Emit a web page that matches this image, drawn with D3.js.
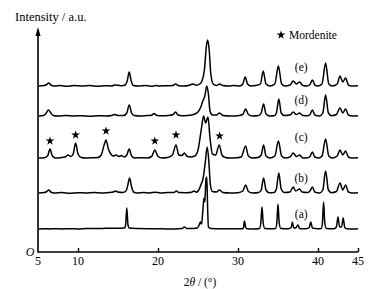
<!DOCTYPE html>
<html>
<head>
<meta charset="utf-8">
<script src="https://cdn.jsdelivr.net/npm/d3@7.9.0/dist/d3.min.js"></script>
<style>
  html, body { margin: 0; padding: 0; background: #fff; }
  svg { display: block; }
</style>
</head>
<body>
<svg id="chart" width="374" height="289"></svg>
<script>
// XRD patterns: [2theta, intensity above the trace baseline]
const traceA = [[5.1,0],[5.8,0.3],[6.4,0],[7.2,0.3],[8.0,0],[9.0,0.3],[10.0,0],[11.0,0.4],[12.0,0.5],[13.0,0.6],[14.0,0.7],[15.0,0.8],[15.8,0.9],[15.95,4],[16.1,21],[16.25,4],[16.4,0.9],[17.5,0.5],[19.0,0.3],[20.5,0.2],[22.0,0],[23.0,0.4],[23.3,2],[23.6,0.4],[24.4,0.5],[24.9,1],[25.15,4],[25.3,7],[25.45,5],[25.6,18],[25.75,31],[25.85,27],[26.0,50],[26.1,52],[26.2,22],[26.3,2],[26.6,0.5],[28.0,0.2],[29.5,0.3],[30.6,0.3],[30.7,2],[30.8,8],[30.95,2],[31.1,0.3],[32.0,0],[32.7,0.5],[32.85,6],[33.0,22],[33.15,6],[33.35,0.5],[34.2,0.3],[34.7,0.5],[34.85,6],[35.0,25],[35.15,6],[35.35,0.5],[36.3,0.3],[36.65,1.5],[36.8,7],[36.95,1.5],[37.2,1],[37.5,4],[37.7,0.5],[38.5,0.3],[38.9,1.5],[39.1,7],[39.3,1],[40.0,0.3],[40.4,0.5],[40.55,6],[40.7,27],[40.85,6],[41.05,0.5],[42.0,0.3],[42.3,2],[42.5,12],[42.7,2],[42.95,2],[43.15,11],[43.35,1.5],[43.6,0.3],[44.5,0],[45,0.2]];

const traceB = [[5.1,0],[5.8,0.5],[6.1,1.5],[6.35,3],[6.6,1],[7.0,0],[8.0,0.4],[9.0,-0.3],[10.0,0.3],[11.0,0],[12.0,0.4],[13.0,0],[13.8,0.5],[14.4,1],[14.7,2],[15.0,1],[15.6,0.5],[16.0,2],[16.2,7],[16.45,15],[16.7,6],[16.95,1],[17.4,0],[18.2,0.5],[19.0,0],[19.6,0.8],[20.3,0],[21.2,0.4],[22.0,0.5],[22.3,2],[22.6,0.4],[23.5,0.3],[24.2,0.8],[24.5,2],[24.8,0.8],[25.1,3],[25.4,9],[25.65,15],[25.9,30],[26.15,46],[26.35,32],[26.55,8],[26.8,1.5],[27.3,1],[27.7,3],[28.1,0.5],[29.0,0],[30.0,0.3],[30.6,2],[30.95,8],[31.3,1.5],[31.8,0],[32.6,0.5],[32.9,3],[33.2,15],[33.5,3],[33.9,0.3],[34.5,0.5],[34.8,4],[35.1,20],[35.4,4],[35.8,0.5],[36.5,1],[36.9,6],[37.2,2],[37.7,4],[38.0,1],[38.7,0.5],[39.0,2],[39.3,6],[39.6,1],[40.2,0],[40.6,3],[40.95,22],[41.3,3],[41.7,0.3],[42.3,1.5],[42.75,10],[43.1,3],[43.45,8],[43.8,1],[44.3,0],[45,0.3]];

const traceC = [[5.1,0],[5.8,0.3],[6.2,2],[6.5,9],[6.8,2],[7.2,0],[7.8,0.3],[8.4,1],[8.75,3],[9.1,1.5],[9.4,4],[9.7,15],[10.0,4],[10.4,0.5],[11.0,0],[11.8,0.3],[12.5,0.5],[12.9,3],[13.3,14],[13.5,18],[13.8,9],[14.1,4],[14.4,2],[14.8,3],[15.1,1.5],[15.4,2.5],[15.8,1],[16.1,3],[16.4,9],[16.7,2],[17.1,0],[17.8,0.3],[18.6,0],[19.2,1.5],[19.6,8],[20.0,1.5],[20.5,0],[21.2,0.5],[21.8,3],[22.25,13],[22.6,3],[23.0,2.5],[23.3,5],[23.6,2],[24.0,1],[24.6,2],[25.0,8],[25.4,28],[25.7,42],[25.95,35],[26.25,41],[26.5,20],[26.8,4],[27.2,3],[27.65,13],[28.0,3],[28.4,0.5],[29.0,0],[29.8,0.3],[30.4,1],[30.95,12],[31.3,2],[31.8,0],[32.5,0.5],[32.9,3],[33.2,13],[33.5,2],[34.0,0],[34.6,2],[35.05,17],[35.45,2],[35.9,0],[36.5,1],[36.9,5],[37.3,1.5],[37.7,3],[38.1,0],[38.7,0.3],[39.0,1.5],[39.3,6],[39.6,1],[40.1,0],[40.5,2],[40.95,19],[41.35,2],[41.8,0],[42.4,2],[42.75,8],[43.1,3],[43.45,7],[43.8,1],[44.2,0],[45,0.2]];

const traceD = [[5.1,0],[5.7,0.5],[6.0,2.5],[6.3,6],[6.6,3],[6.9,0.5],[7.5,0],[8.5,0.4],[9.5,0],[10.5,0.3],[11.5,-0.2],[12.5,0.3],[13.5,0],[14.2,0.5],[14.6,1.5],[15.0,0.5],[15.7,0.5],[16.1,3],[16.4,11],[16.7,3],[17.0,0.5],[17.8,0],[18.6,0.4],[19.2,0.8],[19.5,2.5],[19.8,0.8],[20.5,0.2],[21.3,0.5],[21.9,1.5],[22.2,4],[22.5,1],[23.0,0.3],[23.6,0.5],[24.2,1],[24.6,2],[25.0,4],[25.35,9],[25.6,15],[25.85,20],[26.1,30],[26.3,22],[26.5,5],[26.8,1],[27.3,1],[27.7,3],[28.1,0.5],[29.0,0],[30.0,0.3],[30.6,1.5],[30.95,7],[31.3,1.5],[31.8,0],[32.6,0.5],[32.9,3],[33.2,12],[33.5,2],[34.0,0],[34.6,0.5],[34.8,3],[35.1,17],[35.4,3],[35.8,0.5],[36.5,1],[36.9,4],[37.3,1.5],[37.7,3],[38.1,0.5],[38.7,0.3],[39.0,1.5],[39.3,6],[39.6,1],[40.2,0],[40.6,3],[40.95,21],[41.3,3],[41.7,0.3],[42.3,1.5],[42.75,8],[43.1,3],[43.45,7],[43.8,1],[44.3,0],[45,0.3]];

const traceE = [[5.1,0],[5.8,0.5],[6.1,1.5],[6.35,3],[6.6,1],[7.0,0],[7.8,0.5],[8.6,-0.3],[9.5,0.4],[10.5,0],[11.5,0.4],[12.5,-0.3],[13.3,0.3],[14.2,0],[14.6,1],[15.0,0.8],[15.5,0.3],[15.9,1],[16.15,5],[16.4,14],[16.65,5],[16.9,0.5],[17.5,0],[18.5,0.4],[19.3,-0.3],[19.7,0.6],[20.2,0],[21.0,0.3],[21.8,0.4],[22.2,2],[22.6,0.3],[23.2,0],[23.8,0.5],[24.4,2],[24.8,0.8],[25.2,2],[25.5,5],[25.8,16],[26.05,40],[26.2,46],[26.4,36],[26.6,12],[26.9,2],[27.3,0.5],[27.7,2],[28.1,0.5],[28.8,0],[29.5,0.4],[30.2,0],[30.6,2],[30.9,9],[31.2,2],[31.6,0],[32.2,0.4],[32.8,2],[33.15,15],[33.5,2],[34.0,0],[34.6,2],[35.05,20],[35.45,2],[35.9,0],[36.5,1],[36.9,5],[37.3,2],[37.7,4],[38.1,0.5],[38.6,0],[39.0,1.5],[39.3,6],[39.6,1],[40.0,0],[40.5,2],[40.95,23],[41.35,2],[41.8,0],[42.4,2],[42.75,10],[43.1,4],[43.45,8],[43.8,1],[44.2,0],[45,0.3]];

const traces = [traceA, traceB, traceC, traceD, traceE];
const traceLabels = ['(a)', '(b)', '(c)', '(d)', '(e)'];
const traceOffsets = [23, 59, 94, 136, 166];
const labelRise = [15, 15, 21, 16, 19];
const labelPos = 37.9;

// mordenite peaks marked on trace (c)
const starPos = [6.5, 9.7, 13.5, 19.6, 22.25, 27.7];
const starLevel = [17, 23, 27, 17, 23, 22];

const xTicks = [5, 10, 20, 30, 40, 45];

const FONT = "'Liberation Serif'";
const INK = '#000';

const svg = d3.select('#chart');
const x = d3.scaleLinear().domain([5, 45]).range([38, 358]);
const y = d3.scaleLinear().domain([0, 225]).range([252, 27]);

function label(sel) {
  return sel.style('font-family', FONT).attr('fill', INK);
}

const line = d3.line()
  .x(d => x(d[0]))
  .y(d => y(d[1]))
  .curve(d3.curveMonotoneX);

traces.forEach((tr, i) => {
  svg.append('path')
    .datum(tr.map(d => [d[0], d[1] + traceOffsets[i]]))
    .attr('d', line)
    .attr('fill', 'none')
    .attr('stroke', INK)
    .attr('stroke-width', 1.5)
    .attr('stroke-linejoin', 'round');

  svg.append('text')
    .attr('x', x(labelPos))
    .attr('y', y(traceOffsets[i] + labelRise[i]) + 4)
    .attr('text-anchor', 'middle')
    .attr('font-size', 11.5)
    .call(label)
    .text(traceLabels[i]);
});

const star = d3.symbol().type(d3.symbolStar).size(24);
svg.selectAll('.star')
  .data(starPos)
  .enter()
  .append('path')
  .attr('class', 'star')
  .attr('d', star)
  .attr('transform', (d, i) => `translate(${x(d)},${y(traceOffsets[2] + starLevel[i])})`)
  .attr('fill', INK);

// legend
svg.append('path')
  .attr('d', star)
  .attr('transform', `translate(281,35)`)
  .attr('fill', INK);
svg.append('text')
  .attr('x', 289)
  .attr('y', 39)
  .attr('font-size', 11.5)
  .call(label)
  .text('Mordenite');

// x axis
const xAxis = d3.axisTop(x).tickValues(xTicks.filter(t => t !== 5)).tickSize(4).tickFormat('');
const gx = svg.append('g').attr('transform', `translate(0,${y(0)})`).call(xAxis);
gx.select('.domain').attr('stroke', INK).attr('stroke-width', 1.6).attr('d', `M${x(5)},0H${x(45)}`);
gx.selectAll('.tick line').attr('stroke', INK).attr('stroke-width', 1.4);

svg.selectAll('.xlab')
  .data(xTicks)
  .enter()
  .append('text')
  .attr('class', 'xlab')
  .attr('x', d => x(d))
  .attr('y', 265)
  .attr('text-anchor', 'middle')
  .attr('font-size', 12)
  .call(label)
  .text(d => d);

// y axis with arrow
svg.append('line')
  .attr('x1', x(5)).attr('x2', x(5))
  .attr('y1', y(0) + 0.8).attr('y2', y(222))
  .attr('stroke', INK)
  .attr('stroke-width', 1.6);
svg.append('path')
  .attr('d', `M${x(5)},${y(225)}L${x(5) - 2.5},${y(216)}L${x(5) + 2.5},${y(216)}Z`)
  .attr('fill', INK);

svg.append('text')
  .attr('x', 30)
  .attr('y', 256)
  .attr('text-anchor', 'middle')
  .attr('font-size', 12)
  .attr('font-style', 'italic')
  .call(label)
  .text('O');

svg.append('text')
  .attr('x', 15)
  .attr('y', 21)
  .attr('font-size', 12.5)
  .call(label)
  .text('Intensity / a.u.');

const xl = svg.append('text')
  .attr('x', 200)
  .attr('y', 286)
  .attr('text-anchor', 'middle')
  .attr('font-size', 11.5)
  .call(label);
xl.append('tspan').text('2');
xl.append('tspan').attr('font-style', 'italic').text('θ');
xl.append('tspan').text(' / (°)');
</script>
</body>
</html>
